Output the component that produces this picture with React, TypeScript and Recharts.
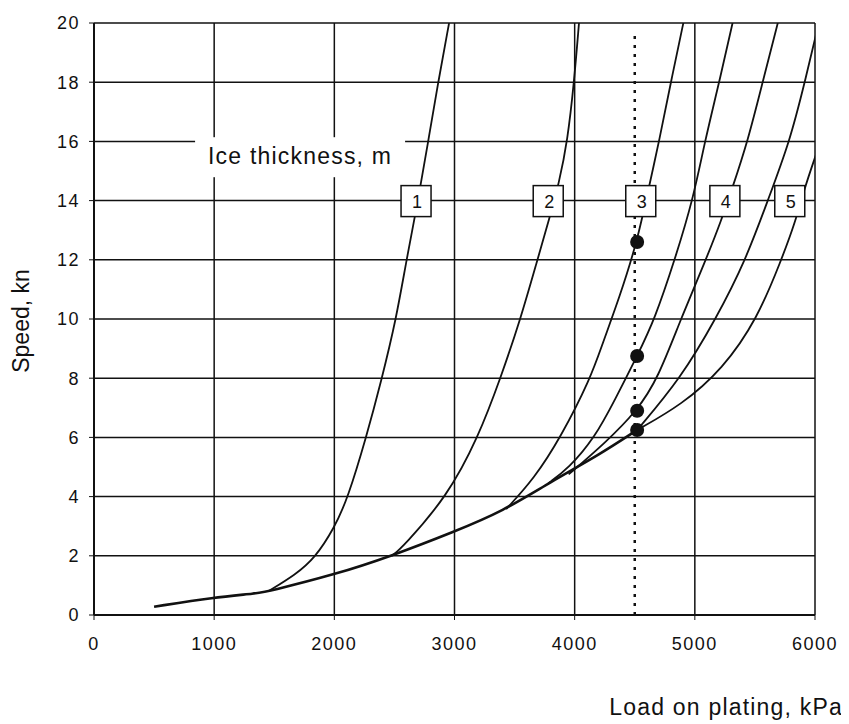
import { LineChart, Line, XAxis, YAxis, CartesianGrid, Scatter, Label } from "recharts";

const FONT = "'Liberation Sans', Arial, sans-serif";
const INK = "#111";

const loadTicks = [0, 1000, 2000, 3000, 4000, 5000, 6000];
const speedTicks = [0, 2, 4, 6, 8, 10, 12, 14, 16, 18, 20];

// lower envelope, common to all ice thicknesses
const baseLoad = [500, 1000, 1360, 1450, 2000, 2480, 3000, 3400, 3800, 4200, 4520];
const baseSpeed = [0.28, 0.6, 0.73, 0.8, 1.36, 2.0, 2.82, 3.5, 4.5, 5.4, 6.25];

const c1Load = [1450, 1676, 1838, 2000, 2112, 2265, 2390, 2515, 2600, 2697, 2781, 2864, 2955];
const c1Speed = [0.8, 1.36, 1.92, 2.94, 3.95, 6.0, 7.9, 10.0, 12.0, 14.0, 16.0, 18.0, 20.0];

const c2Load = [2480, 2570, 2939, 3197, 3383, 3550, 3690, 3790, 3870, 3940, 3995, 4036];
const c2Speed = [2.0, 2.3, 4.0, 6.0, 8.0, 10.0, 12.0, 13.4, 14.6, 16.0, 18.0, 20.0];

const c3Load = [3430, 3661, 3883, 4133, 4231, 4370, 4520, 4620, 4703, 4800, 4915];
const c3Speed = [3.58, 4.6, 6.0, 8.0, 9.16, 10.7, 12.6, 14.5, 16.0, 18.0, 20.2];

const c3bLoad = [3780, 3947, 4169, 4336, 4520, 4667, 4833, 4986, 5083, 5203, 5325];
const c3bSpeed = [4.45, 4.94, 6.0, 7.28, 8.75, 10.0, 12.0, 14.05, 16.0, 18.0, 20.2];

const c4Load = [3950, 4250, 4520, 4694, 4883, 5092, 5220, 5310, 5440, 5564, 5703];
const c4Speed = [4.75, 5.8, 6.9, 8.0, 10.0, 12.0, 13.33, 14.4, 16.0, 18.0, 20.2];

const c5Load = [4520, 4883, 5175, 5425, 5611, 5790, 5915, 6037];
const c5Speed = [6.25, 8.0, 10.0, 12.0, 14.05, 16.0, 18.0, 20.1];

const c6Load = [4520, 4890, 5230, 5520, 5720, 5830, 5912, 5995, 6064];
const c6Speed = [6.25, 7.1, 8.3, 10.0, 12.0, 13.2, 14.4, 15.4, 16.2];

// design load line and the speeds where it meets the curves
const cutLoad = [4500, 4500];
const cutSpeed = [0, 19.7];
const markLoad = [4520, 4520, 4520, 4520];
const markSpeed = [12.6, 8.75, 6.9, 6.25];

const tagText = ["1", "2", "3", "4", "5"];
const tagLoad = [2680, 3780, 4550, 5250, 5790];
const tagSpeed = [14, 14, 14, 14, 14];

const noteText = ["Ice thickness, m"];
const noteLoad = [1690];
const noteSpeed = [15.5];

const pairs = (xs: number[], ys: number[]) => xs.map((x, i) => ({ x, y: ys[i] }));

const curves = [
  { key: "base", data: pairs(baseLoad, baseSpeed), width: 2.6 },
  { key: "c1", data: pairs(c1Load, c1Speed), width: 1.8 },
  { key: "c2", data: pairs(c2Load, c2Speed), width: 1.8 },
  { key: "c3", data: pairs(c3Load, c3Speed), width: 1.8 },
  { key: "c3b", data: pairs(c3bLoad, c3bSpeed), width: 1.8 },
  { key: "c4", data: pairs(c4Load, c4Speed), width: 1.8 },
  { key: "c5", data: pairs(c5Load, c5Speed), width: 1.8 },
  { key: "c6", data: pairs(c6Load, c6Speed), width: 1.8 },
];

const tags = tagText.map((label, i) => ({ x: tagLoad[i], y: tagSpeed[i], label }));
const notes = noteText.map((label, i) => ({ x: noteLoad[i], y: noteSpeed[i], label }));

const TagBox = (props: any) => {
  const { cx, cy, payload } = props;
  return (
    <g>
      <rect x={cx - 15} y={cy - 15} width={30} height={31} fill="#fff" stroke={INK} strokeWidth={1.5} />
      <text x={cx + 1} y={cy + 7} textAnchor="middle" fontSize={18} fontFamily={FONT} fill={INK}>
        {payload.label}
      </text>
    </g>
  );
};

const NoteBox = (props: any) => {
  const { cx, cy, payload } = props;
  return (
    <g>
      <rect x={cx - 102} y={cy - 19} width={210} height={40} fill="#fff" />
      <text x={cx + 3} y={cy + 8} textAnchor="middle" fontSize={23} letterSpacing={1.2} fontFamily={FONT} fill={INK}>
        {payload.label}
      </text>
    </g>
  );
};

const Mark = (props: any) => <circle cx={props.cx} cy={props.cy} r={7} fill={INK} />;

const tickStyle = { fontSize: 18, fill: INK, fontFamily: FONT, letterSpacing: 1.5 };

export default function App() {
  return (
    <div style={{ width: 841, height: 716, background: "#fff" }}>
      <LineChart
        width={841}
        height={716}
        margin={{ top: 15, right: 34, bottom: 9, left: 0 }}
        style={{ fontFamily: FONT }}
      >
        <CartesianGrid stroke={INK} strokeWidth={1.5} />
        <XAxis
          type="number"
          dataKey="x"
          domain={[0, 6000]}
          ticks={loadTicks}
          allowDataOverflow
          height={100}
          tick={tickStyle}
          tickSize={5}
          tickMargin={17}
          axisLine={{ stroke: INK, strokeWidth: 2 }}
          tickLine={{ stroke: INK }}
        >
          <Label
            content={(p: any) => {
              const { x, y, width } = p.viewBox;
              return (
                <text x={x + width + 28} y={y + 100} textAnchor="end" fontSize={23} letterSpacing={1.2} fontFamily={FONT} fill={INK}>
                  Load on plating, kPa
                </text>
              );
            }}
          />
        </XAxis>
        <YAxis
          type="number"
          dataKey="y"
          domain={[0, 20]}
          ticks={speedTicks}
          allowDataOverflow
          width={86}
          tick={tickStyle}
          tickSize={5}
          tickMargin={9}
          axisLine={{ stroke: INK, strokeWidth: 2 }}
          tickLine={{ stroke: INK }}
        >
          <Label
            content={(p: any) => {
              const { x, y, height } = p.viewBox;
              const cy = y + height / 2 + 2;
              return (
                <text
                  transform={`translate(${x + 21}, ${cy}) rotate(-90)`}
                  textAnchor="middle"
                  fontSize={23}
                  fontFamily={FONT}
                  fill={INK}
                >
                  Speed, kn
                </text>
              );
            }}
          />
        </YAxis>
        {curves.map((c) => (
          <Line
            key={c.key}
            data={c.data}
            dataKey="y"
            type="basis"
            stroke={INK}
            strokeWidth={c.width}
            dot={false}
            activeDot={false}
            isAnimationActive={false}
          />
        ))}
        <Line
          data={pairs(cutLoad, cutSpeed)}
          dataKey="y"
          type="linear"
          stroke={INK}
          strokeWidth={2.5}
          strokeDasharray="3 6"
          dot={false}
          activeDot={false}
          isAnimationActive={false}
        />
        <Scatter data={pairs(markLoad, markSpeed)} shape={Mark} isAnimationActive={false} />
        <Scatter data={tags} shape={TagBox} isAnimationActive={false} />
        <Scatter data={notes} shape={NoteBox} isAnimationActive={false} />
      </LineChart>
    </div>
  );
}
